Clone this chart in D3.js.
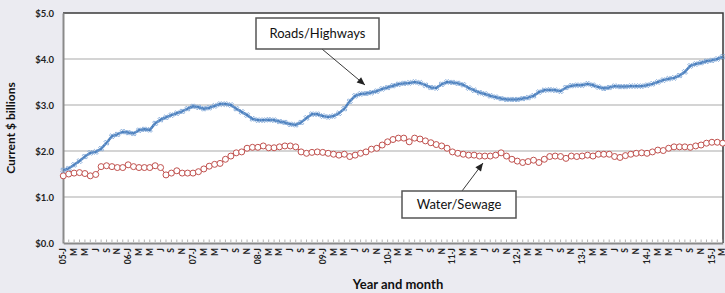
<!DOCTYPE html>
<html><head><meta charset="utf-8">
<script src="https://cdn.jsdelivr.net/npm/d3@7"></script>
<style>
html,body{margin:0;padding:0;background:#ebebf1;}
svg{display:block;}
text{font-family:Lato,"DejaVu Sans",sans-serif;}
</style></head>
<body>
<script>
// ---- data ----
const years = ["05","06","07","08","09","10","11","12","13","14","15"];
const monthLetters = ["J","F","M","A","M","J","J","A","S","O","N","D"];
const shownMonths = [0,2,4,6,8,10];
const yTicks = [0,1,2,3,4,5];
const yTickLabels = ["$0.0","$1.0","$2.0","$3.0","$4.0","$5.0"];
const seriesNames = ["Roads/Highways","Water/Sewage"];

const roads = [1.58,1.62,1.70,1.78,1.88,1.96,1.98,2.05,2.18,2.32,2.36,2.42,
 2.40,2.38,2.45,2.47,2.46,2.60,2.68,2.73,2.78,2.82,2.86,2.92,
 2.97,2.95,2.92,2.94,2.98,3.02,3.02,3.00,2.92,2.85,2.78,2.70,
 2.67,2.67,2.68,2.67,2.64,2.62,2.58,2.57,2.62,2.72,2.80,2.80,
 2.76,2.74,2.76,2.82,2.92,3.08,3.20,3.24,3.25,3.27,3.30,3.35,
 3.38,3.42,3.45,3.47,3.48,3.50,3.48,3.43,3.38,3.37,3.45,3.50,
 3.49,3.47,3.44,3.37,3.32,3.27,3.24,3.20,3.17,3.14,3.12,3.12,
 3.12,3.14,3.16,3.20,3.28,3.32,3.33,3.32,3.30,3.38,3.42,3.43,
 3.43,3.46,3.43,3.39,3.36,3.38,3.41,3.40,3.40,3.41,3.41,3.41,
 3.43,3.46,3.50,3.54,3.57,3.59,3.64,3.72,3.85,3.89,3.92,3.95,
 3.97,4.00,4.05];

const water = [1.46,1.50,1.52,1.53,1.51,1.46,1.49,1.66,1.68,1.66,1.64,1.64,
 1.70,1.66,1.64,1.64,1.64,1.68,1.64,1.48,1.52,1.57,1.52,1.52,
 1.52,1.55,1.61,1.67,1.71,1.73,1.82,1.89,1.96,1.98,2.06,2.08,
 2.08,2.11,2.07,2.07,2.09,2.11,2.11,2.09,1.98,1.95,1.97,1.98,
 1.97,1.95,1.93,1.91,1.93,1.88,1.91,1.95,1.98,2.04,2.06,2.13,
 2.20,2.25,2.28,2.28,2.20,2.28,2.26,2.22,2.18,2.14,2.11,2.06,
 1.98,1.95,1.93,1.91,1.91,1.89,1.89,1.89,1.91,1.96,1.89,1.82,
 1.78,1.75,1.77,1.80,1.75,1.82,1.88,1.89,1.88,1.84,1.89,1.88,
 1.89,1.91,1.89,1.93,1.93,1.93,1.88,1.86,1.90,1.93,1.95,1.96,
 1.95,1.98,2.02,2.01,2.06,2.09,2.09,2.09,2.08,2.11,2.13,2.17,
 2.19,2.19,2.17];

// categories: one per month, Jan 2005 .. Mar 2015
const categories = [];
years.forEach(y => monthLetters.forEach((m, k) => categories.push({year: y, month: k})));
categories.length = roads.length;

// ---- layout ----
const W = 725, H = 293;
const m = {left: 63, right: 2, top: 13, bottom: 50};
const svg = d3.select("body").append("svg").attr("width", W).attr("height", H);

const x = d3.scalePoint().domain(d3.range(categories.length)).range([m.left + 0.3, W - m.right - 0.3]);
const y = d3.scaleLinear().domain([0, 5]).range([H - m.bottom, m.top]);

// plot background
svg.append("rect").attr("x", m.left).attr("y", m.top)
  .attr("width", W - m.right - m.left).attr("height", H - m.bottom - m.top)
  .attr("fill", "#fff");

// gridlines
svg.append("g").selectAll("line").data(yTicks.filter(d => d > 0 && d < 5)).join("line")
  .attr("x1", m.left).attr("x2", W - m.right)
  .attr("y1", d => y(d)).attr("y2", d => y(d))
  .attr("stroke", "#a9a9a9").attr("stroke-width", 1.2);

// top & right border
svg.append("path")
  .attr("d", `M${m.left},${y(5)}H${W - m.right}V${y(0)}`)
  .attr("fill", "none").attr("stroke", "#3a3a3a").attr("stroke-width", 1.5);

// y axis
const yAxis = d3.axisLeft(y).tickValues(yTicks).tickFormat((d, i) => yTickLabels[i]).tickSize(0).tickPadding(9);
const gy = svg.append("g").attr("transform", `translate(${m.left},0)`).call(yAxis);
gy.select(".domain").attr("stroke", "#8a8a8a").attr("stroke-width", 2);
gy.selectAll("text").attr("font-size", 9.5).attr("font-weight", "bold").attr("fill", "#222");

// x axis: minor ticks every month, labels every 2 months
const xAxis = d3.axisBottom(x).tickValues(d3.range(categories.length)).tickSize(0).tickFormat("");
const gx = svg.append("g").attr("transform", `translate(0,${y(0)})`).call(xAxis);
gx.select(".domain").attr("stroke", "#8a8a8a").attr("stroke-width", 2);
svg.append("g").selectAll("line").data(d3.range(categories.length)).join("line")
  .attr("x1", d => x(d)).attr("x2", d => x(d))
  .attr("y1", y(0) - 1).attr("y2", y(0) - 3.5)
  .attr("stroke", "#a0a0a0").attr("stroke-width", 0.8);

const labelIdx = d3.range(categories.length).filter(i => shownMonths.includes(categories[i].month));
svg.append("g").selectAll("text").data(labelIdx).join("text")
  .attr("transform", d => `translate(${Math.min(x(d) + 3, W - 0.5)},${y(0) + 5}) rotate(-90)`)
  .attr("text-anchor", "end")
  .attr("font-size", 8.5).attr("font-weight", "bold").attr("fill", "#222")
  .text(d => {
    const c = categories[d];
    const l = monthLetters[c.month];
    return c.month === 0 ? `${c.year}-${l}` : l;
  });

// axis titles
svg.append("text").attr("transform", `translate(15,${(y(0) + y(5)) / 2}) rotate(-90)`)
  .attr("text-anchor", "middle").attr("font-size", 12).attr("font-weight", "bold").attr("fill", "#111")
  .text("Current $ billions");
svg.append("text").attr("x", 398).attr("y", 289)
  .attr("text-anchor", "middle").attr("font-size", 13).attr("font-weight", "bold").attr("fill", "#111")
  .text("Year and month");

// lines
const line = d3.line().x((d, i) => x(i)).y(d => y(d));
svg.append("path").datum(water).attr("d", line)
  .attr("fill", "none").attr("stroke", "#c0504d").attr("stroke-width", 1);
svg.append("g").selectAll("circle").data(water).join("circle")
  .attr("cx", (d, i) => x(i)).attr("cy", d => y(d)).attr("r", 3)
  .attr("fill", "#fff").attr("stroke", "#c0504d").attr("stroke-width", 1);

svg.append("path").datum(roads).attr("d", line)
  .attr("fill", "none").attr("stroke", "#4a7ebb").attr("stroke-width", 2.5);
const star = d3.symbol().type(d3.symbolCross).size(16);
svg.append("g").selectAll("path").data(roads).join("path")
  .attr("transform", (d, i) => `translate(${x(i)},${y(d)}) rotate(45)`)
  .attr("d", star)
  .attr("fill", "none").attr("stroke", "#7aa3d6").attr("stroke-width", 0.8);

// annotations
function callout(text, bx, by, bw, bh, ax1, ay1, ax2, ay2) {
  const g = svg.append("g");
  g.append("line").attr("x1", ax1).attr("y1", ay1).attr("x2", ax2).attr("y2", ay2)
    .attr("stroke", "#222").attr("stroke-width", 0.9);
  const ang = Math.atan2(ay2 - ay1, ax2 - ax1);
  const L = 8, Wd = 3.5;
  const p1 = [ax2 - L * Math.cos(ang) + Wd * Math.sin(ang), ay2 - L * Math.sin(ang) - Wd * Math.cos(ang)];
  const p2 = [ax2 - L * Math.cos(ang) - Wd * Math.sin(ang), ay2 - L * Math.sin(ang) + Wd * Math.cos(ang)];
  g.append("path").attr("d", `M${ax2},${ay2}L${p1}L${p2}Z`).attr("fill", "#222");
  g.append("rect").attr("x", bx).attr("y", by).attr("width", bw).attr("height", bh)
    .attr("fill", "#fff").attr("stroke", "#555").attr("stroke-width", 1.5);
  g.append("text").attr("x", bx + bw / 2).attr("y", by + bh / 2 + 4.5)
    .attr("text-anchor", "middle").attr("font-size", 13).attr("fill", "#111").text(text);
}
callout(seriesNames[0], 256, 18, 123, 31, 322, 49, 365, 85);
callout(seriesNames[1], 402, 191, 114, 27, 462, 191, 483, 163);
</script>
</body></html>
